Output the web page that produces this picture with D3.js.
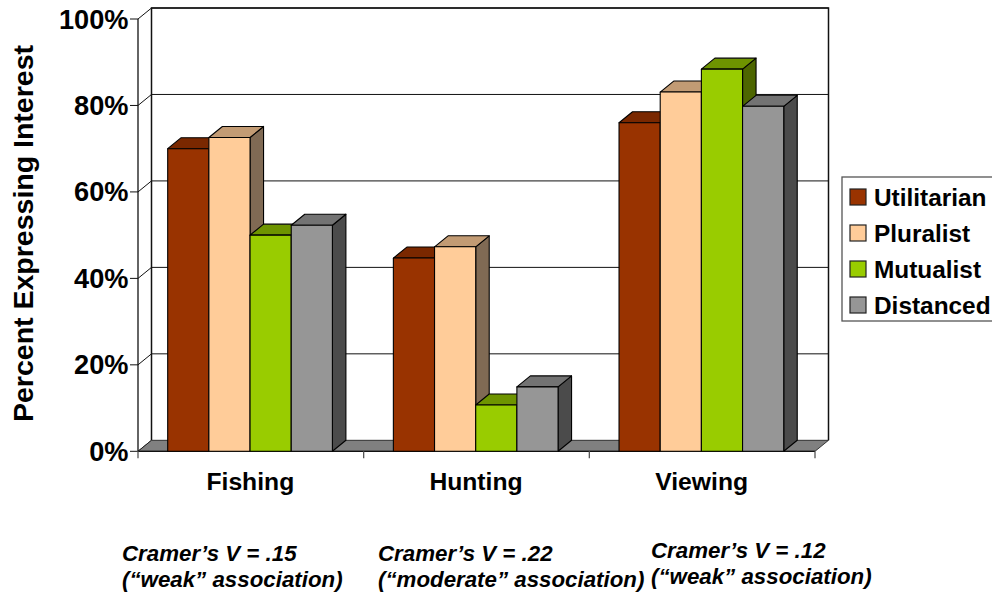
<!DOCTYPE html>
<html><head><meta charset="utf-8">
<script src="https://cdn.jsdelivr.net/npm/d3@7"></script>
<style>html,body{margin:0;padding:0;background:#fff;overflow:hidden}svg{display:block}text{font-family:"Liberation Sans",Arial,sans-serif;font-weight:bold;fill:#000}</style>
</head><body><div id="c"></div>
<script>
const categories=["Fishing","Hunting","Viewing"];
const seriesNames=["Utilitarian","Pluralist","Mutualist","Distanced"];
const utilitarian=[70,44.7,76];
const pluralist=[72.6,47.3,83.1];
const mutualist=[50,10.7,88.4];
const distanced=[52.3,14.9,79.8];
const seriesValues=[utilitarian,pluralist,mutualist,distanced];
const colors=["#993300","#FFCC99","#99CC00","#969696"];
const tops=["#7A2800","#C29B74","#6E9400","#737373"];
const sides=["#4D1A00","#806A54","#4D6600","#4B4B4B"];
const yTicks=[0,20,40,60,80,100];
const notes=[["Cramer\u2019s V = .15","(\u201cweak\u201d association)"],["Cramer\u2019s V = .22","(\u201cmoderate\u201d association)"],["Cramer\u2019s V = .12","(\u201cweak\u201d association)"]];
const noteX=[122,378,651], noteY=[561,561,558];

const svg=d3.select("#c").append("svg").attr("width",992).attr("height",594);
const dx=13.5,dy=-11;
const x=d3.scaleBand().domain(categories).range([138,815]);
const y=d3.scaleLinear().domain([0,100]).range([451.3,19]);
const inner=d3.scaleBand().domain(d3.range(4)).range([29.7,194.4]);
const ink="#111";
svg.append("path").attr("fill","none").attr("stroke",ink).attr("stroke-width",1.5)
 .attr("d",`M${x.range()[0]+dx},${y(0)+dy}V${y(100)+dy}H${x.range()[1]+dx}V${y(0)+dy}`);
svg.append("path").attr("fill","none").attr("stroke",ink).attr("stroke-width",1.3)
 .attr("d",`M${x.range()[0]},${y(0)}V${y(100)}`);
yTicks.forEach(t=>{
  svg.append("path").attr("fill","none").attr("stroke",ink).attr("stroke-width",1)
   .attr("d",`M${x.range()[0]-8},${y(t)}H${x.range()[0]}L${x.range()[0]+dx},${y(t)+dy}`+(t>0?`H${x.range()[1]+dx}`:""));
});
svg.append("path").attr("fill","#808080").attr("stroke",ink).attr("stroke-width",0.8)
 .attr("d",`M${x.range()[0]},${y(0)}L${x.range()[0]+dx},${y(0)+dy}H${x.range()[1]+dx}L${x.range()[1]},${y(0)}Z`);
svg.append("path").attr("stroke",ink).attr("stroke-width",1.3).attr("d",`M${x.range()[0]},${y(0)}H${x.range()[1]}`);
[0,1,2,3].forEach(i=>{const xx=x.range()[0]+i*x.bandwidth();
  svg.append("line").attr("x1",xx).attr("x2",xx).attr("y1",y(0)).attr("y2",y(0)+7).attr("stroke","#555").attr("stroke-width",1.3);});
categories.forEach((c,ci)=>{
  seriesValues.forEach((vals,si)=>{
    const x0=x(c)+inner(si),w=inner.bandwidth(),yt=y(vals[ci]),yb=y(0);
    const g=svg.append("g").attr("stroke","#000").attr("stroke-width",1.1).attr("stroke-linejoin","round");
    g.append("path").attr("fill",sides[si]).attr("d",`M${x0+w},${yt}l${dx},${dy}V${yb+dy}L${x0+w},${yb}Z`);
    g.append("path").attr("fill",tops[si]).attr("d",`M${x0},${yt}l${dx},${dy}H${x0+w+dx}L${x0+w},${yt}Z`);
    g.append("rect").attr("x",x0).attr("y",yt).attr("width",w).attr("height",yb-yt).attr("fill",colors[si]);
  });
});
yTicks.forEach(t=>svg.append("text").attr("x",128.5).attr("y",y(t)+9.5).attr("text-anchor","end").attr("font-size",27.2).text(t+"%"));
categories.forEach(c=>svg.append("text").attr("x",x(c)+x.bandwidth()/2-0.5).attr("y",490).attr("text-anchor","middle").attr("font-size",24.7).text(c));
svg.append("text").attr("transform","translate(33,233.5) rotate(-90)").attr("text-anchor","middle").attr("font-size",28.5).text("Percent Expressing Interest");
svg.append("rect").attr("x",842).attr("y",177).attr("width",170).attr("height",144).attr("fill","#fff").attr("stroke","#555").attr("stroke-width",1.3);
seriesNames.forEach((s,i)=>{
  const ly=189+i*36;
  svg.append("rect").attr("x",850).attr("y",ly).attr("width",16).attr("height",16).attr("fill",colors[i]).attr("stroke","#222").attr("stroke-width",1.2);
  svg.append("text").attr("x",874).attr("y",ly+16.5).attr("font-size",24.4).text(s);
});
notes.forEach((n,i)=>n.forEach((l,j)=>svg.append("text").attr("x",noteX[i]).attr("y",noteY[i]+j*26).attr("font-size",22.3).attr("font-style","italic").text(l)));
</script></body></html>
